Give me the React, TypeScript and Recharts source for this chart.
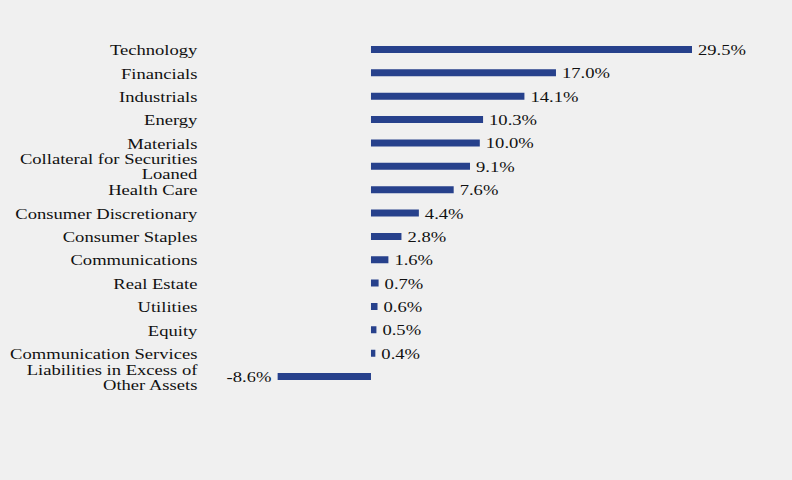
import React from "react";
import { BarChart, Bar, XAxis, YAxis, LabelList } from "recharts";

const categories: string[] = [
  "Technology",
  "Financials",
  "Industrials",
  "Energy",
  "Materials",
  "Collateral for Securities\nLoaned",
  "Health Care",
  "Consumer Discretionary",
  "Consumer Staples",
  "Communications",
  "Real Estate",
  "Utilities",
  "Equity",
  "Communication Services",
  "Liabilities in Excess of\nOther Assets",
];

const values: number[] = [29.5, 17.0, 14.1, 10.3, 10.0, 9.1, 7.6, 4.4, 2.8, 1.6, 0.7, 0.6, 0.5, 0.4, -8.6];

const data = categories.map((name, i) => ({ name, value: values[i] }));

const FONT = "'Liberation Serif', 'Times New Roman', Times, serif";
const STRETCH = 1.24;

const CategoryTick = (props: any) => {
  const { x, y, payload } = props;
  const lines: string[] = String(payload.value).split("\n");
  const lh = 15;
  const startDy = -((lines.length - 1) * lh) / 2 + 5.5;
  return (
    <g transform={`translate(${x},${y}) scale(${STRETCH},1)`}>
      <text x={0} y={0} textAnchor="end" style={{ fontFamily: FONT, fontSize: 15, fill: "#111111" }}>
        {lines.map((l, i) => (
          <tspan key={i} x={0} dy={i === 0 ? startDy : lh}>
            {l}
          </tspan>
        ))}
      </text>
    </g>
  );
};

const ValueLabel = (props: any) => {
  const vb = props.viewBox || props;
  const x = Number(vb.x ?? props.x);
  const y = Number(vb.y ?? props.y);
  const w = Number(vb.width ?? props.width);
  const h = Number(vb.height ?? props.height);
  const v = Number(props.value);
  const lo = Math.min(x, x + w);
  const hi = Math.max(x, x + w);
  const cy = y + h / 2;
  const pos = v >= 0;
  const tx = pos ? hi + 6 : lo - 6;
  return (
    <g transform={`translate(${tx},${cy}) scale(${STRETCH},1)`}>
      <text
        x={0}
        y={0}
        dy={5.5}
        textAnchor={pos ? "start" : "end"}
        style={{ fontFamily: FONT, fontSize: 15, fill: "#111111" }}
      >
        {`${v.toFixed(1)}%`}
      </text>
    </g>
  );
};

export default function App() {
  return (
    <div
      style={{
        position: "fixed",
        left: 0,
        top: 0,
        width: 792,
        height: 480,
        background: "#f0f0f0",
        fontFamily: FONT,
      }}
    >
      <BarChart
        width={792}
        height={480}
        data={data}
        layout="vertical"
        margin={{ top: 38, right: 100, bottom: 91.6, left: 0 }}
        style={{ fontFamily: FONT }}
      >
        <XAxis type="number" hide domain={[-8.6, 29.5]} allowDataOverflow />
        <YAxis
          type="category"
          dataKey="name"
          width={277.4}
          axisLine={false}
          tickLine={false}
          tickSize={0}
          tickMargin={80}
          interval={0}
          tick={<CategoryTick />}
        />
        <Bar dataKey="value" fill="#27418c" barSize={7} isAnimationActive={false}>
          <LabelList dataKey="value" content={<ValueLabel />} />
        </Bar>
      </BarChart>
    </div>
  );
}
